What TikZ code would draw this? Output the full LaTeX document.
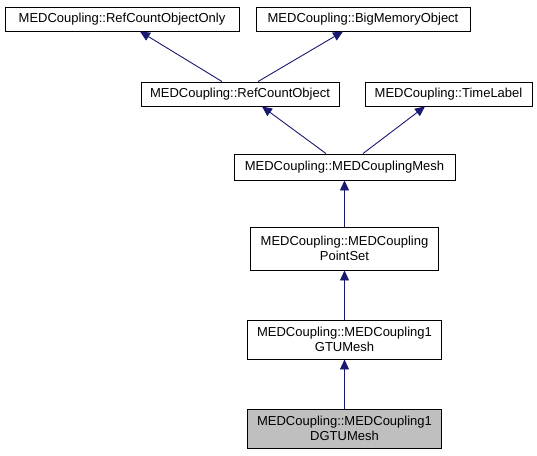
\documentclass[tikz,border=0pt]{standalone}
\usepackage{fontspec}
\setmainfont{Liberation Sans}
\usetikzlibrary{arrows.meta}
\definecolor{edgecol}{HTML}{191970}
\definecolor{grayfill}{HTML}{BFBFBF}
\begin{document}
\begin{tikzpicture}[x=1pt,y=-1pt,
  box/.style={draw=black,line width=0.9pt,fill=white,inner sep=0pt,align=center,
    font=\fontsize{13}{14.5}\selectfont},
  arr/.style={draw=edgecol,line width=0.9pt,-{Triangle[length=10pt,width=9pt]}}]
\useasboundingbox[fill=white] (0,0) rectangle (537,455);
\node[box,minimum width=234pt,minimum height=24pt] (rcoo) at (122,19) {MEDCoupling::RefCountObjectOnly};
\node[box,minimum width=214pt,minimum height=24pt] (bmo) at (363,19) {MEDCoupling::BigMemoryObject};
\node[box,minimum width=198pt,minimum height=24pt] (rco) at (240,94) {MEDCoupling::RefCountObject};
\node[box,minimum width=167pt,minimum height=24pt] (tl) at (448.5,94) {MEDCoupling::TimeLabel};
\node[box,minimum width=221pt,minimum height=26pt] (mesh) at (344.5,167) {MEDCoupling::MEDCouplingMesh};
\node[box,minimum width=188pt,minimum height=43pt] (ps) at (344.5,248.5) {MEDCoupling::MEDCoupling\\PointSet};
\node[box,minimum width=194pt,minimum height=39pt] (gtu) at (344.5,339.5) {MEDCoupling::MEDCoupling1\\GTUMesh};
\node[box,fill=grayfill,minimum width=194pt,minimum height=39pt] (dgtu) at (344.5,428.5) {MEDCoupling::MEDCoupling1\\DGTUMesh};
\draw[arr] ([xshift=-18pt]rco.north) -- ([xshift=18pt]rcoo.south);
\draw[arr] ([xshift=18pt]rco.north) -- ([xshift=-20pt]bmo.south);
\draw[arr] ([xshift=-18.5pt]mesh.north) -- ([xshift=22pt]rco.south);
\draw[arr] ([xshift=18.5pt]mesh.north) -- ([xshift=-23.5pt]tl.south);
\draw[arr] (ps.north) -- (mesh.south);
\draw[arr] (gtu.north) -- (ps.south);
\draw[arr] (dgtu.north) -- (gtu.south);
\end{tikzpicture}
\end{document}
